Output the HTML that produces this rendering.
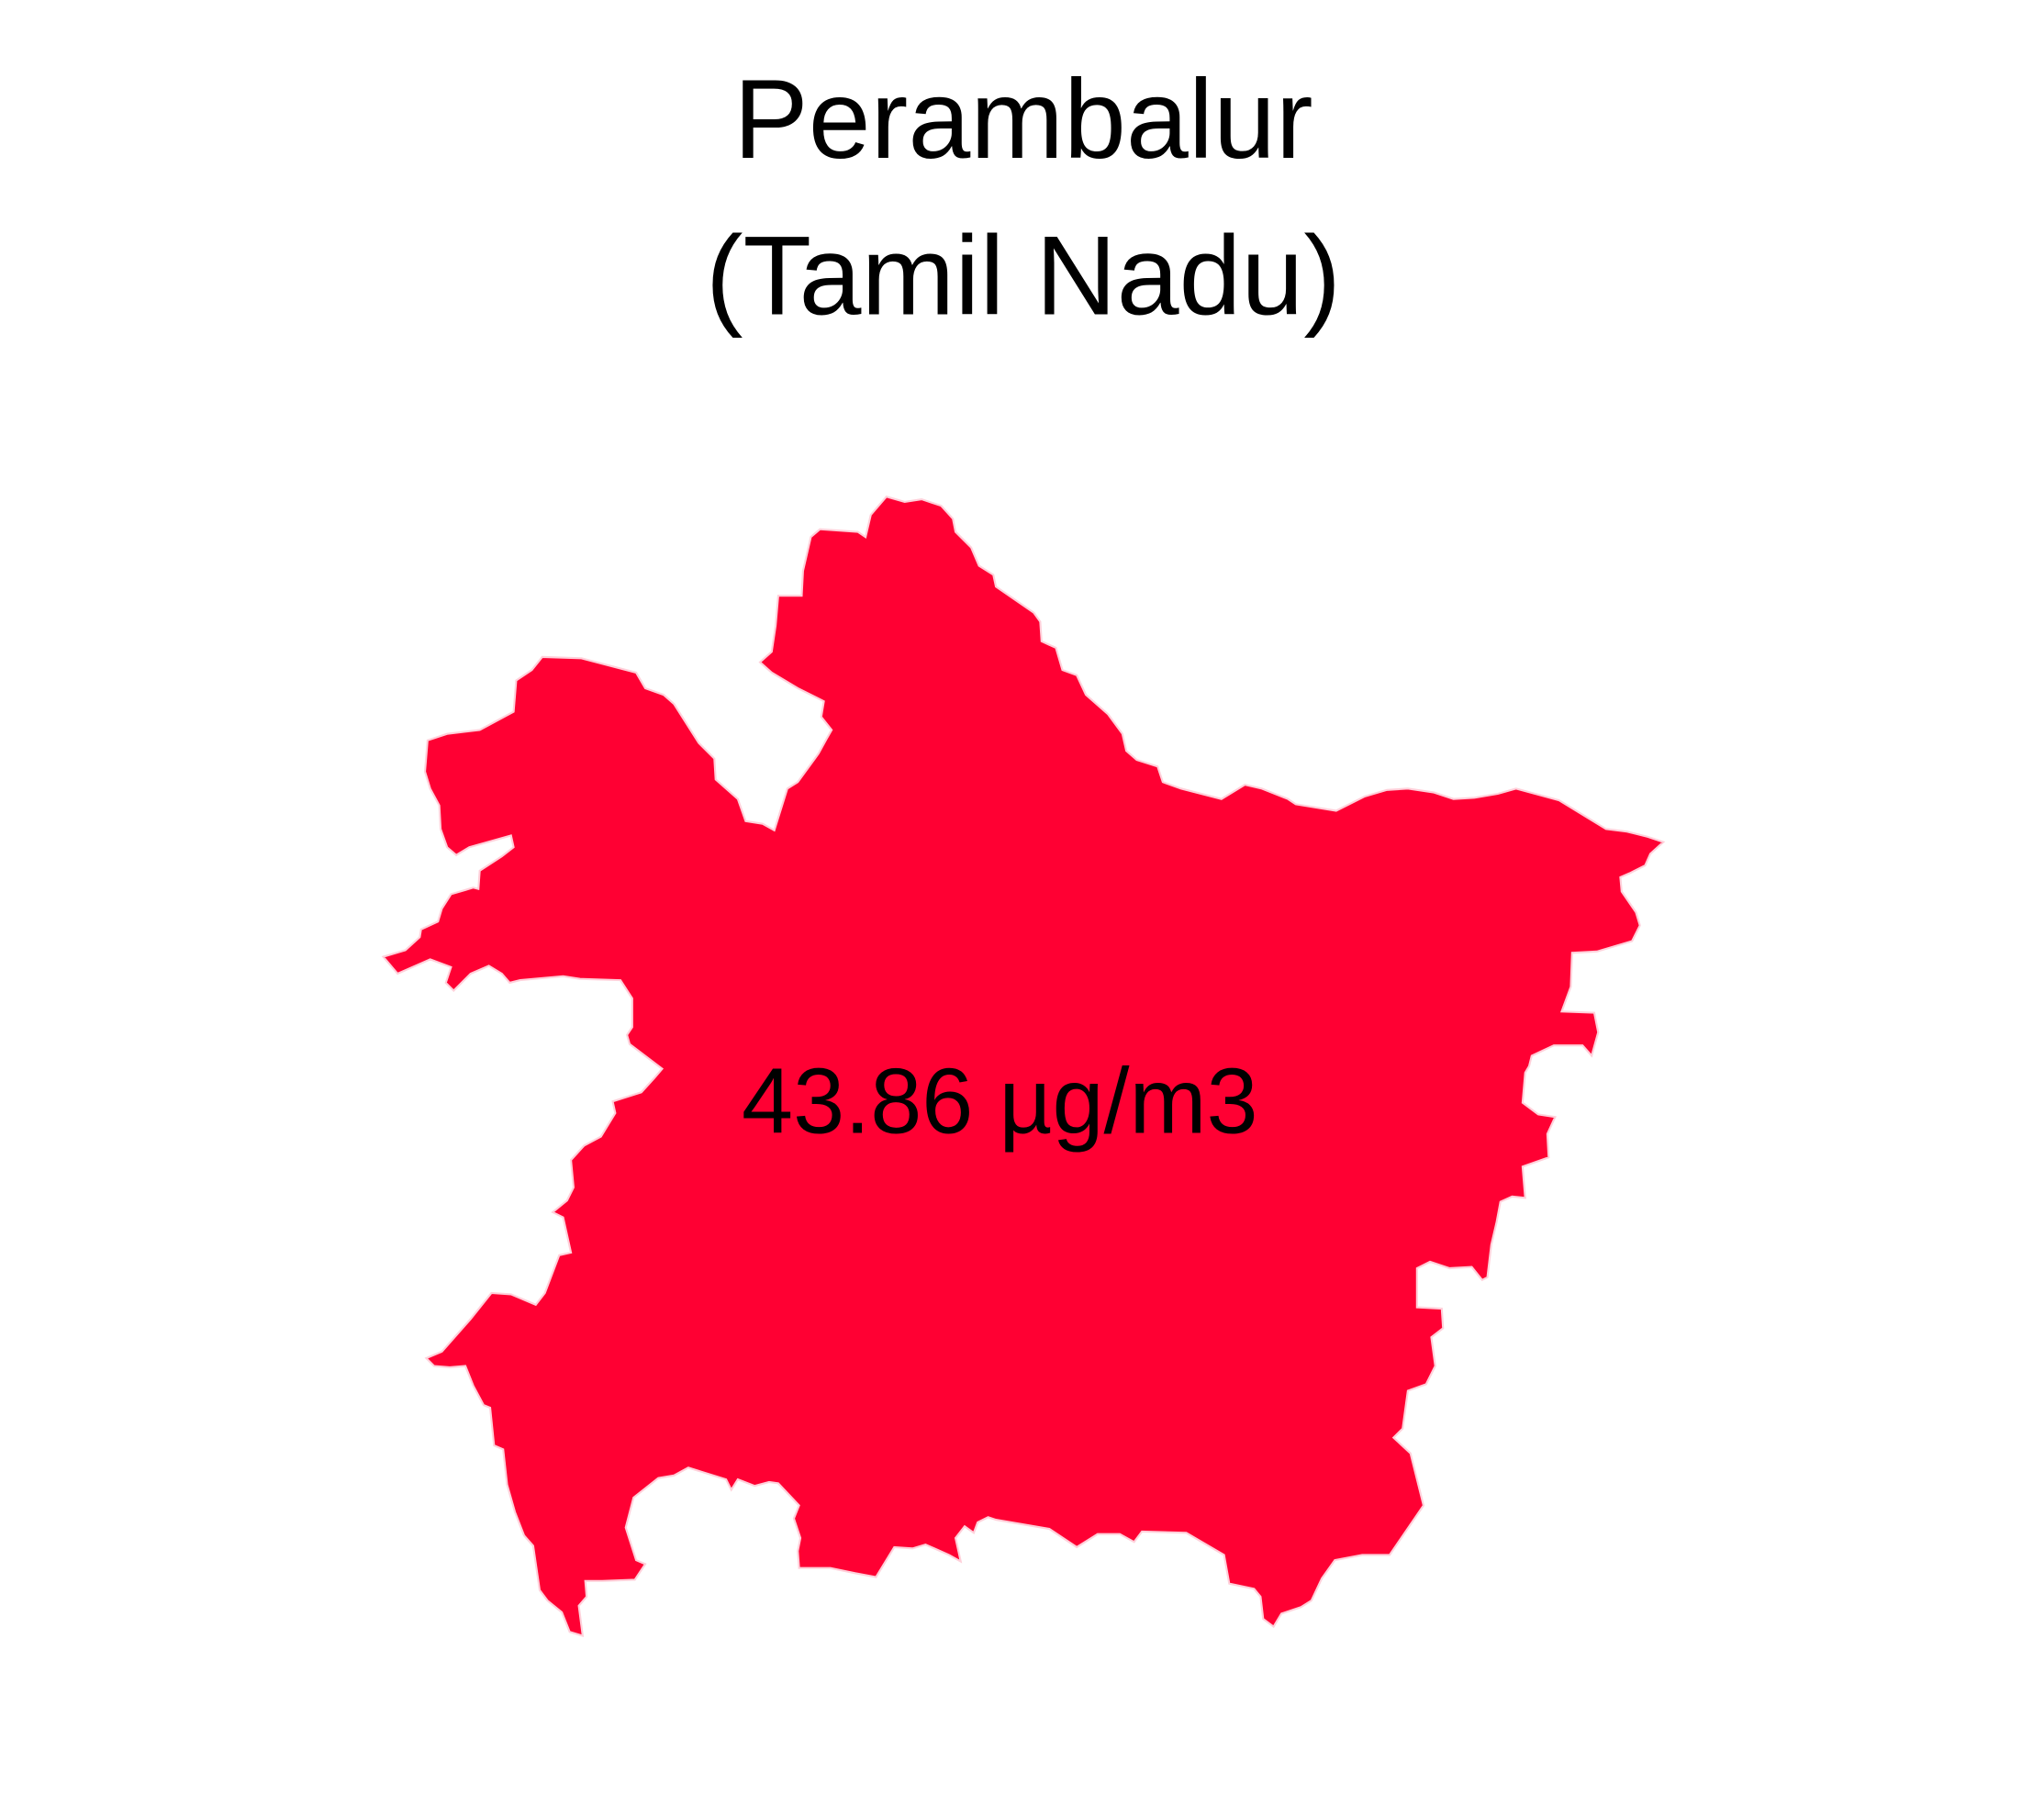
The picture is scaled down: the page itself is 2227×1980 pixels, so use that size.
<!DOCTYPE html>
<html><head><meta charset="utf-8"><style>
html,body{margin:0;padding:0;background:#fff;}
svg{display:block;}
text{font-family:"Liberation Sans",Arial,sans-serif;fill:#000;}
</style></head><body>
<svg width="2227" height="1980" viewBox="0 0 1568 1394" xmlns="http://www.w3.org/2000/svg">
<rect x="0" y="0" width="1568" height="1394" fill="#fff"/>
<text x="785" y="121" font-size="86" text-anchor="middle">Perambalur</text>
<text x="785" y="241" font-size="86" text-anchor="middle">(Tamil Nadu)</text>
<polygon fill="#FF0033" stroke="#FFD0DA" stroke-width="1.5" points="680,381 694,385 707,383 722,388 731,398 733,408 745,420 751,434 762,441 764,450 793,470 798,477 799,492 810,497 815,514 826,518 833,533 850,548 861,563 864,576 872,583 888,588 892,600 906,605 937,613 955,602 968,605 988,613 994,617 1025,622 1047,611 1064,606 1080,605 1100,608 1115,613 1131,612 1149,609 1163,605 1196,614 1232,636 1248,638 1264,642 1276,646 1266,655 1262,664 1250,670 1243,673 1244,684 1255,700 1258,710 1252,722 1225,730 1206,731 1205,757 1198,776 1223,777 1226,792 1221,810 1214,802 1192,802 1175,810 1173,818 1170,823 1168,846 1180,855 1193,857 1187,870 1188,888 1168,895 1170,919 1160,918 1151,922 1148,938 1144,955 1141,980 1137,982 1129,972 1112,973 1097,968 1087,973 1087,1003 1106,1004 1107,1019 1098,1026 1101,1048 1094,1062 1080,1067 1076,1096 1069,1103 1082,1115 1092,1155 1066,1193 1045,1193 1024,1197 1014,1211 1006,1228 998,1233 983,1238 977,1248 969,1242 967,1225 962,1219 943,1215 939,1193 910,1176 876,1175 870,1183 859,1177 842,1177 826,1187 805,1173 764,1166 758,1164 750,1168 747,1176 740,1171 733,1180 737,1198 728,1193 710,1185 700,1188 686,1187 672,1210 656,1207 637,1203 613,1203 612,1190 614,1180 609,1165 613,1155 597,1138 590,1137 579,1140 566,1135 561,1143 557,1135 528,1126 517,1132 505,1134 486,1149 480,1172 488,1197 495,1200 487,1212 462,1213 449,1213 450,1225 444,1232 447,1255 437,1252 431,1237 420,1228 414,1220 409,1186 402,1178 395,1160 389,1139 386,1112 379,1109 376,1080 371,1078 363,1063 357,1048 345,1049 333,1048 327,1042 339,1037 361,1012 377,992 392,993 411,1001 418,992 429,963 438,961 432,934 424,930 435,921 440,911 438,890 448,879 461,872 472,854 470,845 492,838 502,827 508,820 483,801 481,794 485,788 485,766 476,752 445,751 432,749 399,752 391,754 385,747 375,741 361,747 348,760 342,754 346,742 330,736 305,747 294,734 311,729 322,719 323,713 336,707 339,697 346,686 363,681 367,682 368,668 385,657 394,650 392,641 360,650 350,656 343,650 338,636 337,618 330,605 326,592 328,568 343,563 368,560 394,546 396,522 408,514 416,504 446,505 488,516 495,528 509,533 517,540 536,570 548,582 549,598 566,613 572,630 585,632 594,637 604,605 612,600 620,589 628,578 634,567 638,560 630,550 632,538 612,528 592,516 583,508 592,500 595,480 597,457 615,457 616,438 622,412 629,406 658,408 664,412 668,395"/>
<text x="767" y="869" font-size="71" text-anchor="middle">43.86 µg/m3</text>
</svg>
</body></html>
